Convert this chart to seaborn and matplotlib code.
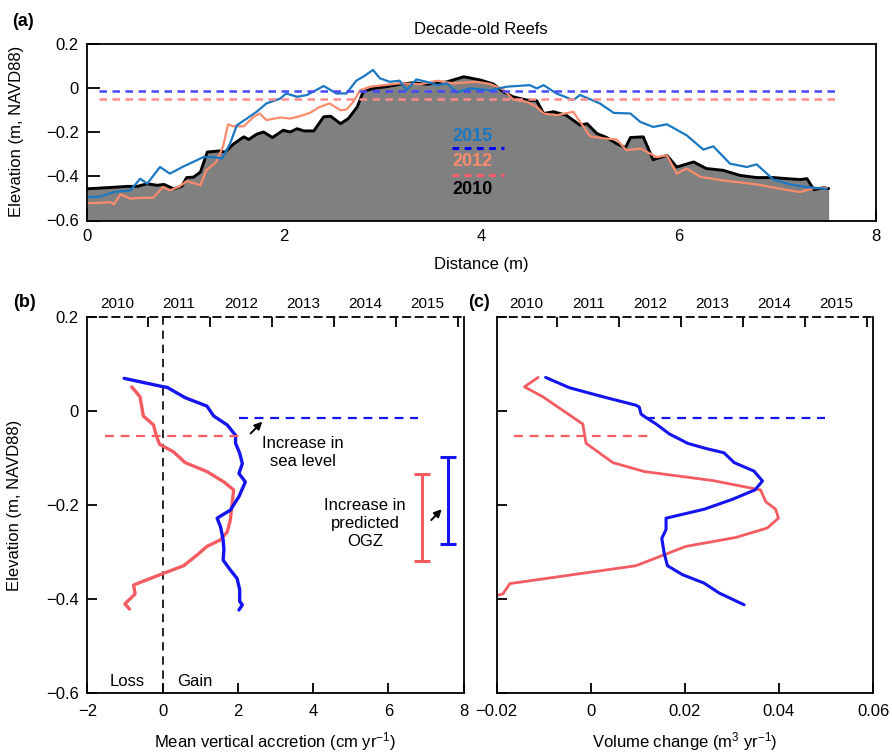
import numpy as np
import pandas as pd
import matplotlib
matplotlib.use("Agg")
import matplotlib.pyplot as plt
import seaborn as sns

# ---- panel (a): reef profiles, distance (m) vs elevation (m, NAVD88)
dist_2010 = [0.0, 0.2, 0.41, 0.51, 0.61, 0.71, 0.78, 0.88, 0.96, 1.01, 1.08, 1.15, 1.22, 1.34, 1.40,
             1.49, 1.59, 1.64, 1.72, 1.79, 1.88, 1.99, 2.06, 2.13, 2.2, 2.3, 2.4, 2.47, 2.57, 2.65,
             2.74, 2.8, 2.9, 3.04, 3.17, 3.31, 3.44, 3.58, 3.65, 3.82, 3.99, 4.12, 4.22, 4.32, 4.46,
             4.56, 4.63, 4.73, 4.86, 5.0, 5.07, 5.17, 5.27, 5.37, 5.46, 5.51, 5.64, 5.74, 5.88,
             5.98, 6.15, 6.28, 6.45, 6.62, 6.79, 6.96, 7.1, 7.23, 7.3, 7.37, 7.47, 7.52]
elev_2010 = [-0.456, -0.451, -0.445, -0.445, -0.433, -0.44, -0.436, -0.456, -0.445, -0.405, -0.403,
             -0.38, -0.289, -0.284, -0.289, -0.251, -0.22, -0.232, -0.208, -0.198, -0.223, -0.19,
             -0.198, -0.183, -0.193, -0.193, -0.129, -0.126, -0.16, -0.137, -0.084, -0.015, 0.0,
             0.008, 0.019, 0.026, 0.019, 0.026, 0.03, 0.053, 0.038, 0.02, -0.015, -0.038, -0.053,
             -0.056, -0.114, -0.106, -0.122, -0.167, -0.16, -0.205, -0.223, -0.251, -0.269, -0.223,
             -0.22, -0.324, -0.304, -0.357, -0.334, -0.364, -0.372, -0.395, -0.405, -0.405, -0.41,
             -0.414, -0.41, -0.46, -0.451, -0.455]

dist_2012 = [0.0, 0.24, 0.27, 0.34, 0.44, 0.54, 0.67, 0.77, 0.84, 0.94, 1.01, 1.08, 1.15, 1.21,
             1.31, 1.38, 1.43, 1.48, 1.59, 1.69, 1.75, 1.82, 1.96, 2.06, 2.16, 2.26, 2.36, 2.46,
             2.57, 2.63, 2.7, 2.77, 2.87, 3.01, 3.17, 3.38, 3.55, 3.71, 3.95, 4.09, 4.22, 4.32,
             4.46, 4.56, 4.63, 4.76, 4.93, 5.0, 5.1, 5.24, 5.37, 5.47, 5.61, 5.78, 5.88, 5.98,
             6.08, 6.22, 6.45, 6.79, 7.03, 7.23, 7.37, 7.5]
elev_2012 = [-0.522, -0.517, -0.527, -0.481, -0.501, -0.497, -0.497, -0.448, -0.463, -0.445, -0.421,
             -0.43, -0.44, -0.372, -0.334, -0.263, -0.163, -0.172, -0.172, -0.129, -0.114, -0.144,
             -0.132, -0.137, -0.126, -0.111, -0.084, -0.068, -0.099, -0.096, -0.061, -0.008, 0.008,
             0.015, 0.023, 0.019, 0.035, 0.023, 0.03, 0.02, -0.005, -0.05, -0.061, -0.084, -0.114,
             -0.122, -0.106, -0.152, -0.217, -0.227, -0.232, -0.281, -0.273, -0.312, -0.304,
             -0.387, -0.364, -0.402, -0.418, -0.436, -0.456, -0.471, -0.453, -0.451]

dist_2015 = [0.0, 0.14, 0.27, 0.44, 0.54, 0.61, 0.74, 0.84, 0.98, 1.11, 1.18, 1.28, 1.37, 1.45,
             1.52, 1.62, 1.72, 1.82, 1.96, 2.02, 2.13, 2.23, 2.4, 2.53, 2.63, 2.73, 2.8, 2.9,
             2.97, 3.07, 3.17, 3.24, 3.34, 3.48, 3.55, 3.65, 3.75, 3.88, 4.09, 4.26, 4.49, 4.56,
             4.63, 4.76, 4.93, 5.0, 5.2, 5.34, 5.51, 5.61, 5.74, 5.88, 6.08, 6.25, 6.35, 6.52,
             6.69, 6.79, 6.96, 7.13, 7.3, 7.5]
elev_2015 = [-0.494, -0.491, -0.471, -0.463, -0.41, -0.433, -0.357, -0.387, -0.354, -0.327, -0.312,
             -0.312, -0.319, -0.251, -0.167, -0.137, -0.106, -0.068, -0.046, -0.023, -0.038, -0.03,
             0.011, -0.023, -0.023, 0.035, 0.053, 0.084, 0.046, 0.03, 0.035, -0.008, 0.041, 0.026,
             0.015, 0.023, -0.018, 0.0, -0.008, 0.008, 0.015, 0.0, 0.015, -0.023, -0.053, -0.03,
             -0.068, -0.111, -0.114, -0.152, -0.175, -0.163, -0.213, -0.278, -0.263, -0.342,
             -0.357, -0.345, -0.414, -0.436, -0.448, -0.456]

sea_level = {"2015": -0.01, "2012": -0.05}
sea_span_a = [0.12, 7.62]

# ---- panel (b): mean vertical accretion (cm/yr) vs elevation
acc_15 = [-1.02, 0.03, 0.12, 0.6, 1.18, 1.36, 1.72, 1.94, 1.94, 2.05, 2.12, 2.03, 2.2, 2.03, 1.8,
          1.45, 1.54, 1.61, 1.63, 1.61, 1.8, 1.98, 2.05, 2.05, 2.12, 2.03]
acc_15_z = [0.069, 0.051, 0.05, 0.028, 0.01, -0.011, -0.03, -0.052, -0.069, -0.09, -0.112, -0.133,
            -0.151, -0.182, -0.211, -0.228, -0.246, -0.274, -0.295, -0.317, -0.338, -0.356, -0.38,
            -0.405, -0.412, -0.423]
acc_12 = [-0.82, -0.6, -0.51, -0.24, -0.17, -0.08, 0.29, 0.6, 1.18, 1.63, 1.89, 1.85, 1.8, 1.72,
          1.54, 1.18, 0.92, 0.56, 0.03, -0.42, -0.77, -0.73, -1.0, -0.88]
acc_12_z = [0.051, 0.03, -0.011, -0.03, -0.052, -0.071, -0.087, -0.11, -0.129, -0.151, -0.168,
            -0.196, -0.232, -0.257, -0.274, -0.288, -0.306, -0.329, -0.345, -0.359, -0.37, -0.389,
            -0.41, -0.421]
sea_span_b = {"2015": [2.03, 6.78], "2012": [-1.53, 2.07]}
ogz_x = {"2012": 6.89, "2015": 7.58}
ogz_range = {"2012": [-0.32, -0.135], "2015": [-0.282, -0.098]}

# ---- panel (c): volume change (m3/yr) vs elevation
vol_15 = [-0.0096, -0.0045, 0.0033, 0.0096, 0.0103, 0.0107, 0.0117, 0.0139, 0.0167, 0.0206, 0.0245,
          0.0283, 0.0305, 0.0347, 0.0365, 0.0349, 0.0301, 0.0241, 0.016, 0.016, 0.0151, 0.0156,
          0.0163, 0.0195, 0.0241, 0.0273, 0.0326]
vol_15_z = [0.071, 0.049, 0.028, 0.012, 0.008, -0.007, -0.014, -0.028, -0.049, -0.069, -0.08, -0.089,
            -0.11, -0.128, -0.149, -0.168, -0.188, -0.209, -0.228, -0.252, -0.271, -0.302, -0.329,
            -0.348, -0.366, -0.387, -0.412]
vol_12 = [-0.0112, -0.0141, -0.0102, -0.0017, -0.001, 0.0047, 0.0114, 0.0259, 0.0361, 0.0372,
          0.0393, 0.0399, 0.0375, 0.0308, 0.0202, 0.0096, -0.0024, -0.0172, -0.0187, -0.0204]
vol_12_z = [0.071, 0.051, 0.03, -0.028, -0.069, -0.11, -0.129, -0.148, -0.168, -0.193, -0.209, -0.228,
            -0.249, -0.269, -0.288, -0.329, -0.346, -0.367, -0.389, -0.393]
sea_span_c = {"2015": [0.0117, 0.0498], "2012": [-0.0164, 0.0126]}

years = [2010, 2011, 2012, 2013, 2014, 2015]

sns.set_theme(style="white")
plt.rcParams["font.family"] = ["Liberation Sans", "DejaVu Sans"]
plt.rcParams["mathtext.fontset"] = "custom"
plt.rcParams["mathtext.rm"] = "Liberation Sans"
plt.rcParams["mathtext.it"] = "Liberation Sans:italic"
plt.rcParams["axes.linewidth"] = 1.3
for k in ("text.color", "axes.labelcolor", "xtick.color", "ytick.color", "axes.edgecolor"):
    plt.rcParams[k] = "black"

W, H = 892, 752
fig = plt.figure(figsize=(W / 100, H / 100), dpi=100)


def fx(px):
    return px / W


def fy(py):
    return 1 - py / H


BLUE_A, SALMON, GREY = "#1a78c2", "#fa8c6e", "#808080"
BLUE, RED = "#1414f0", "#f45c62"

# ================= (a) =================
ax = fig.add_axes([fx(87), fy(220.5), fx(876 - 87), (220.5 - 44.4) / H])
ax.fill_between(dist_2010, elev_2010, -0.6, color=GREY, lw=0, zorder=1)
sns.lineplot(x=dist_2010, y=elev_2010, sort=False, estimator=None, color="black", lw=2.1, ax=ax, zorder=3)
sns.lineplot(x=dist_2012, y=elev_2012, sort=False, estimator=None, color=SALMON, lw=1.6, ax=ax, zorder=4)
sns.lineplot(x=dist_2015, y=elev_2015, sort=False, estimator=None, color=BLUE_A, lw=1.6, ax=ax, zorder=5)
ax.hlines(sea_level["2015"], *sea_span_a, color="#4848ff", lw=1.8, ls=(0, (3, 2.2)), zorder=6)
ax.hlines(sea_level["2012"], *sea_span_a, color="#ff8a8a", lw=1.8, ls=(0, (3, 2.2)), zorder=6)
ax.set_xlim(0, 8)
ax.set_ylim(-0.6, 0.2)
ax.set_xticks([0, 2, 4, 6, 8])
ax.set_yticks([-0.6, -0.4, -0.2, 0, 0.2])
ax.set_yticklabels(["\u22120.6", "\u22120.4", "\u22120.2", "0", "0.2"])
ax.tick_params(direction="in", length=9, width=1.3, labelsize=12, pad=6, left=True, bottom=True)
for s in ax.spines.values():
    s.set_zorder(7)
# in-plot legend
ax.text(3.91, -0.217, "2015", color=BLUE_A, fontsize=13, fontweight="bold", ha="center", va="center", zorder=8)
ax.hlines(-0.271, 3.70, 4.23, color="#0000ff", lw=2.2, ls=(0, (2.2, 1.8)), zorder=8)
ax.text(3.91, -0.334, "2012", color=SALMON, fontsize=13, fontweight="bold", ha="center", va="center", zorder=8)
ax.hlines(-0.395, 3.70, 4.23, color="#ff5a6a", lw=2.2, ls=(0, (2.2, 1.8)), zorder=8)
ax.text(3.91, -0.459, "2010", color="black", fontsize=13, fontweight="bold", ha="center", va="center", zorder=8)
fig.text(fx(481), fy(30), "Decade-old Reefs", ha="center", va="center", fontsize=12)
fig.text(fx(481), fy(265), "Distance (m)", ha="center", va="center", fontsize=12)
fig.text(fx(17), fy(131), "Elevation (m, NAVD88)", rotation=90, ha="center", va="center", fontsize=12)
fig.text(fx(12), fy(21), "(a)", ha="left", va="center", fontsize=13, fontweight="bold")


def profile_axes(left):
    a = fig.add_axes([fx(left), fy(693.3), fx(376.3), 376.6 / H])
    a.set_ylim(-0.6, 0.2)
    a.set_yticks([-0.6, -0.4, -0.2, 0, 0.2])
    a.tick_params(direction="in", length=7, width=1.3, labelsize=12, pad=6, left=True, bottom=True)
    a.tick_params(axis="x", pad=8)
    a.spines["top"].set_visible(False)
    top = a.twiny()
    top.set_xlim(2009.52, 2015.59)
    top.set_xticks(years)
    top.set_xticklabels([str(y) for y in years])
    top.set_xticks([y + 0.5 for y in years], minor=True)
    top.tick_params(which="major", length=0, labelsize=11, pad=4)
    top.tick_params(which="minor", direction="in", length=7, width=1.3, top=True)
    for s in ("left", "right", "bottom"):
        top.spines[s].set_visible(False)
    top.spines["top"].set_linestyle((0, (4, 3)))
    top.grid(False)
    return a


# ================= (b) =================
axb = profile_axes(87.3)
axb.axvline(0, color="black", lw=1.2, ls=(0, (5, 3.5)))
sns.lineplot(x=acc_12, y=acc_12_z, sort=False, estimator=None, color=RED, lw=2.4, ax=axb)
sns.lineplot(x=acc_15, y=acc_15_z, sort=False, estimator=None, color=BLUE, lw=2.4, ax=axb)
axb.hlines(sea_level["2015"] - 0.006, *sea_span_b["2015"], color=BLUE, lw=1.6, ls=(0, (4, 3)))
axb.hlines(sea_level["2012"] - 0.003, *sea_span_b["2012"], color=RED, lw=1.6, ls=(0, (4, 3)))
for yr, col in (("2012", RED), ("2015", BLUE)):
    lo, hi = ogz_range[yr]
    axb.errorbar(ogz_x[yr], (lo + hi) / 2, yerr=(hi - lo) / 2, color=col, lw=2.2, capsize=6, capthick=2.2)
axb.set_xlim(-2, 8)
axb.set_xticks([-2, 0, 2, 4, 6, 8])
axb.set_xticklabels(["\u22122", "0", "2", "4", "6", "8"])
axb.set_yticklabels(["\u22120.6", "\u22120.4", "\u22120.2", "0", "0.2"])
axb.text(3.73, -0.088, "Increase in\nsea level", ha="center", va="center", fontsize=12, linespacing=1.25)
axb.text(5.38, -0.24, "Increase in\npredicted\nOGZ", ha="center", va="center", fontsize=12, linespacing=1.25)
arrow = dict(arrowstyle="-|>", color="black", lw=1.4, mutation_scale=11, shrinkA=0, shrinkB=0)
axb.annotate("", xy=(2.65, -0.023), xytext=(2.34, -0.048), arrowprops=arrow)
axb.annotate("", xy=(7.42, -0.209), xytext=(7.14, -0.232), arrowprops=arrow)
axb.text(-0.95, -0.575, "Loss", ha="center", va="center", fontsize=12)
axb.text(0.85, -0.575, "Gain", ha="center", va="center", fontsize=12)
axb.set_xlabel("")
axb.set_ylabel("")
fig.text(fx(275), fy(742), "Mean vertical accretion (cm yr$^{\u22121}$)", ha="center", va="center", fontsize=12)
fig.text(fx(15), fy(505), "Elevation (m, NAVD88)", rotation=90, ha="center", va="center", fontsize=12)
fig.text(fx(13), fy(302), "(b)", ha="left", va="center", fontsize=13, fontweight="bold")

# ================= (c) =================
axc = profile_axes(496.7)
sns.lineplot(x=vol_12, y=vol_12_z, sort=False, estimator=None, color=RED, lw=2.0, ax=axc)
sns.lineplot(x=vol_15, y=vol_15_z, sort=False, estimator=None, color=BLUE, lw=2.2, ax=axc)
axc.hlines(sea_level["2015"] - 0.006, *sea_span_c["2015"], color=BLUE, lw=1.6, ls=(0, (4, 3)))
axc.hlines(sea_level["2012"] - 0.003, *sea_span_c["2012"], color=RED, lw=1.6, ls=(0, (4, 3)))
axc.set_xlim(-0.02, 0.06)
axc.set_xticks([-0.02, 0, 0.02, 0.04, 0.06])
axc.set_xticklabels(["\u22120.02", "0", "0.02", "0.04", "0.06"])
axc.set_yticklabels([])
axc.set_xlabel("")
axc.set_ylabel("")
fig.text(fx(685), fy(742), "Volume change (m$^3$ yr$^{\u22121}$)", ha="center", va="center", fontsize=12)
fig.text(fx(468), fy(302), "(c)", ha="left", va="center", fontsize=13, fontweight="bold")

fig.savefig("out.png", dpi=100)
